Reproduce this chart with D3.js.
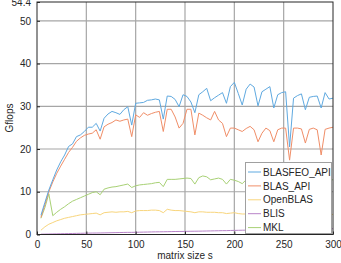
<!DOCTYPE html>
<html><head><meta charset="utf-8">
<script src="https://cdn.jsdelivr.net/npm/d3@7"></script>
<style>html,body{margin:0;padding:0;background:#fff;} svg{display:block;font-family:"Liberation Sans",Arial,sans-serif;}</style>
</head><body>
<svg id="chart" width="341" height="263"></svg>
<script>
const sizes = [4,8,12,16,20,24,28,32,36,40,44,48,52,56,60,64,68,72,76,80,84,88,92,96,100,104,108,112,116,120,124,128,132,136,140,144,148,152,156,160,164,168,172,176,180,184,188,192,196,200,204,208,212,216,220,224,228,232,236,240,244,248,252,256,260,264,268,272,276,280,284,288,292,296,300];
const blasfeoApi = [4.5,7.5,10.4,12.8,15.1,17.0,18.6,20.6,21.2,22.9,23.3,24.1,25.1,25.1,26.0,24.2,27.2,28.2,28.8,28.5,28.1,29.2,29.9,25.6,30.7,30.8,30.9,31.4,31.5,31.7,31.5,27.0,32.4,32.3,31.6,29.9,32.7,32.3,31.0,28.5,32.7,33.4,34.2,31.3,32.0,32.6,33.2,30.7,34.6,35.6,33.0,30.3,34.0,35.2,34.5,30.1,33.4,34.0,34.6,29.6,32.7,33.2,33.4,20.5,31.9,32.5,32.9,29.2,32.1,32.3,32.4,29.6,33.2,31.7,31.9];
const blasApi = [4.0,7.0,10.0,12.3,14.3,16.0,17.6,19.2,20.4,21.8,22.6,23.2,23.5,23.7,24.5,22.3,25.2,25.8,26.2,26.8,26.5,26.8,27.0,22.9,28.0,27.4,28.5,27.9,28.3,28.6,28.8,24.1,29.3,29.3,27.5,24.9,26.0,29.3,29.3,23.3,28.4,27.9,27.3,26.8,28.8,26.8,26.0,22.9,24.9,24.9,24.5,24.1,24.8,25.3,24.5,21.7,23.7,24.9,24.3,21.7,24.5,24.9,24.9,17.4,24.9,24.9,24.7,21.4,24.6,24.9,24.5,18.6,24.6,24.9,25.1];
const openBlas = [1.0,1.8,2.4,2.8,3.2,3.5,3.8,4.0,4.2,4.4,4.6,4.7,4.8,4.9,5.0,4.6,5.1,5.2,5.3,5.2,5.3,5.3,5.4,5.1,5.5,5.6,5.6,5.6,5.7,5.7,5.6,5.1,5.9,5.7,5.6,5.6,5.5,5.4,5.3,5.1,5.3,5.3,5.2,5.2,5.2,5.1,5.1,4.9,5.0,5.1,4.9,4.8,4.8,4.8,4.8,4.7,4.8,4.8,4.8,4.7,4.8,4.8,4.8,4.6,4.8,4.8,4.7,4.6,4.7,4.7,4.7,4.6,4.7,4.7,4.7];
const blis = [0.08,0.1,0.12,0.14,0.16,0.18,0.2,0.22,0.24,0.26,0.28,0.3,0.32,0.34,0.35,0.36,0.38,0.4,0.42,0.44,0.46,0.48,0.5,0.5,0.52,0.54,0.56,0.58,0.6,0.62,0.63,0.64,0.66,0.68,0.7,0.71,0.72,0.74,0.76,0.77,0.78,0.8,0.82,0.84,0.86,0.88,0.9,0.9,0.94,0.96,0.98,1.0,1.02,1.04,1.06,1.07,1.08,1.1,1.12,1.13,1.14,1.16,1.18,1.18,1.2,1.22,1.24,1.25,1.26,1.28,1.3,1.3,1.32,1.34,1.36];
const mkl = [3.8,6.3,9.5,4.4,5.2,5.9,6.5,7.2,7.8,8.2,8.6,9.0,9.4,9.8,10.0,9.3,10.6,10.9,11.1,11.2,11.4,11.6,11.8,11.0,11.4,11.6,11.7,11.8,11.9,12.1,12.2,11.2,12.9,12.9,12.9,13.0,13.1,13.2,13.1,11.8,13.3,13.7,13.5,12.8,13.0,13.2,12.9,11.8,12.9,12.7,12.4,11.9,12.8,13.0,12.9,12.0,12.8,13.0,12.9,12.0,12.8,12.9,12.9,11.5,12.8,12.9,12.8,12.0,12.7,12.8,12.8,11.8,12.7,12.8,12.8];

const seriesNames = ["BLASFEO_API","BLAS_API","OpenBLAS","BLIS","MKL"];
const seriesValues = [blasfeoApi, blasApi, openBlas, blis, mkl];
const seriesColors = ["#5fa9e0","#f08e68","#f8d57c","#b883c8","#a8d175"];
const xTicks = [0,50,100,150,200,250,300];
const yTicks = [0,10,20,30,40,50,54.4];

const svg = d3.select("#chart");
const x = d3.scaleLinear().domain([0,300]).range([37,333]);
const y = d3.scaleLinear().domain([0,54.4]).range([234.5,2]);

// grid
const grid = svg.append("g");
grid.selectAll("line.gx").data(xTicks.slice(1,-1)).join("line")
  .attr("x1",d=>x(d)).attr("x2",d=>x(d)).attr("y1",y(54.4)).attr("y2",y(0))
  .attr("stroke","#a6a6a6").attr("stroke-width",1.2);
grid.selectAll("line.gy").data(yTicks.slice(1,-1)).join("line")
  .attr("y1",d=>y(d)).attr("y2",d=>y(d)).attr("x1",x(0)).attr("x2",x(300))
  .attr("stroke","#a6a6a6").attr("stroke-width",1.2);

// lines
const line = d3.line().x((d,i)=>x(sizes[i])).y(d=>y(d));
const drawOrder = [4,3,2,1,0];
drawOrder.forEach(k=>{
  svg.append("path").datum(seriesValues[k]).attr("d",line)
    .attr("fill","none").attr("stroke",seriesColors[k]).attr("stroke-width",1);
});

// axes
const xAxis = d3.axisBottom(x).tickValues(xTicks).tickSize(-3).tickPadding(6);
const gx = svg.append("g").attr("transform",`translate(0,${y(0)})`).call(xAxis);
const yAxis = d3.axisLeft(y).tickValues(yTicks).tickSize(-3).tickPadding(6).tickFormat(d=>d===54.4?"54.4":d3.format("d")(d));
const gy = svg.append("g").attr("transform",`translate(${x(0)},0)`).call(yAxis);
[gx,gy].forEach(g=>{
  g.selectAll("text").attr("font-size",10).attr("fill","#262626").attr("font-family","Liberation Sans, Arial, sans-serif");
  g.selectAll("line").attr("stroke","#262626");
  g.select(".domain").remove();
});
// box
svg.append("rect").attr("x",x(0)).attr("y",y(54.4)).attr("width",x(300)-x(0)).attr("height",y(0)-y(54.4))
  .attr("fill","none").attr("stroke","#262626").attr("stroke-width",1);

// labels
svg.append("text").attr("x",185).attr("y",259).attr("text-anchor","middle")
  .attr("font-size",10).attr("fill","#262626").text("matrix size s");
svg.append("text").attr("transform","translate(13,118) rotate(-90)").attr("text-anchor","middle")
  .attr("font-size",10).attr("fill","#262626").text("Gflops");

// legend
const lg = svg.append("g");
lg.append("rect").attr("x",245.5).attr("y",162.5).attr("width",86).attr("height",71)
  .attr("fill","#fff").attr("stroke","#a0a0a0").attr("stroke-width",1);
seriesNames.forEach((n,i)=>{
  const cy = 172 + i*13.9;
  lg.append("line").attr("x1",248).attr("x2",261).attr("y1",cy).attr("y2",cy)
    .attr("stroke",seriesColors[i]).attr("stroke-width",1);
  lg.append("text").attr("x",263).attr("y",cy+3.6).attr("font-size",10).attr("fill","#262626").text(n);
});
</script>
</body></html>
